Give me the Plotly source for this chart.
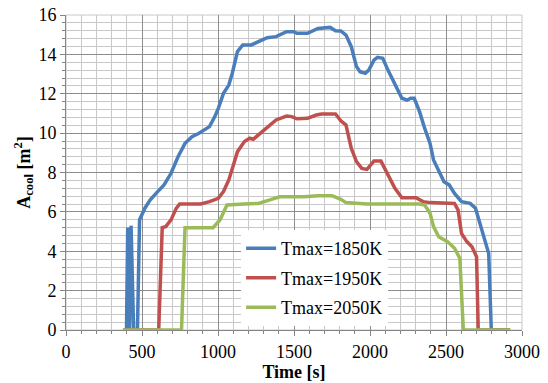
import plotly.graph_objects as go

# Time [s] and A_cool [m2] values
t_1850 = [380, 398, 406, 418, 428, 445, 470, 484, 520, 553, 600, 645, 691, 737, 783, 829, 875, 944,
          979, 1002, 1036, 1071, 1094, 1128, 1163, 1220, 1266, 1324, 1382, 1451, 1497, 1520, 1589,
          1658, 1738, 1773, 1808, 1842, 1877, 1911, 1934, 1969, 1992, 2026, 2049, 2084, 2118, 2164,
          2210, 2245, 2268, 2291, 2326, 2360, 2395, 2418, 2452, 2487, 2521, 2556, 2602, 2659, 2694,
          2729, 2752, 2781, 2798, 2920]
a_1850 = [0, 0, 5.2, 0, 5.3, 0, 0, 5.6, 6.2, 6.6, 7.0, 7.37, 7.96, 8.8, 9.48, 9.82, 9.99, 10.33,
          10.84, 11.26, 12.02, 12.44, 13.04, 14.14, 14.48, 14.48, 14.65, 14.85, 14.9, 15.15, 15.15,
          15.07, 15.07, 15.32, 15.37, 15.2, 15.19, 14.98, 14.39, 13.38, 13.12, 13.04, 13.2, 13.71,
          13.85, 13.8, 13.2, 12.44, 11.77, 11.68, 11.77, 11.77, 11.09, 10.24, 9.48, 8.64, 8.04,
          7.53, 7.37, 6.94, 6.52, 6.43, 6.18, 5.25, 4.74, 3.89, 0, 0]

t_1950 = [380, 610, 633, 656, 691, 725, 748, 806, 886, 944, 1002, 1036, 1071, 1105, 1128, 1174,
          1209, 1232, 1289, 1347, 1382, 1451, 1485, 1520, 1589, 1646, 1681, 1773, 1808, 1842, 1877,
          1911, 1946, 1980, 2026, 2072, 2118, 2164, 2210, 2303, 2349, 2395, 2556, 2579, 2602, 2637,
          2671, 2701, 2712, 2920]
a_1950 = [0, 0, 5.2, 5.25, 5.59, 6.18, 6.4, 6.4, 6.4, 6.52, 6.69, 7.03, 7.62, 8.47, 9.06, 9.57,
          9.74, 9.69, 10.07, 10.41, 10.67, 10.87, 10.84, 10.73, 10.75, 10.92, 10.97, 10.97, 10.63,
          10.41, 9.23, 8.55, 8.21, 8.16, 8.58, 8.58, 7.87, 7.2, 6.72, 6.72, 6.52, 6.47, 6.43, 6.1,
          4.91, 4.49, 4.23, 3.72, 0, 0]

t_2050 = [373, 760, 783, 852, 967, 1013, 1059, 1174, 1266, 1336, 1405, 1566, 1658, 1750, 1808,
          1842, 1980, 2326, 2360, 2395, 2418, 2452, 2510, 2556, 2591, 2614, 2924]
a_2050 = [0, 0, 5.2, 5.2, 5.2, 5.59, 6.35, 6.4, 6.43, 6.6, 6.77, 6.77, 6.82, 6.82, 6.64, 6.47,
          6.4, 6.4, 6.35, 5.93, 5.25, 4.74, 4.49, 4.15, 3.64, 0, 0]

series_names = ["Tmax=1850K", "Tmax=1950K", "Tmax=2050K"]
series_colors = ["#4A7EBB", "#C0504D", "#9BBB59"]

x_ticks = [0, 500, 1000, 1500, 2000, 2500, 3000]
y_ticks = [0, 2, 4, 6, 8, 10, 12, 14, 16]

FONT = "Liberation Serif"

fig = go.Figure()
for i, (tx, ay) in enumerate([(t_1850, a_1850), (t_1950, a_1950), (t_2050, a_2050)]):
    fig.add_trace(go.Scatter(
        x=tx, y=ay, mode="lines", name=series_names[i],
        legendgroup=f"g{i}",
        line=dict(color=series_colors[i], width=3.5),
    ))

axis_common = dict(
    showline=True, linecolor="#868686", linewidth=1,
    gridcolor="#8C8C8C", gridwidth=1,
    ticks="outside", ticklen=5, tickcolor="#868686",
    tickfont=dict(family=FONT, size=18, color="black"),
    zeroline=False, mirror=False, automargin=False,
    ticklabeloverflow="allow",
)

fig.update_xaxes(
    range=[0, 3000], tickvals=x_ticks, ticktext=[str(v) for v in x_ticks],
    minor=dict(dtick=100, showgrid=True, gridcolor="#C8C8C8", gridwidth=1,
               ticks="outside", ticklen=3, tickcolor="#868686"),
    title=dict(text="<b>Time [s]</b>", font=dict(family=FONT, size=18, color="black"), standoff=3),
    **axis_common,
)
fig.update_yaxes(
    range=[0, 16], tickvals=y_ticks, ticktext=[str(v) for v in y_ticks],
    minor=dict(dtick=0.4, showgrid=True, gridcolor="#C8C8C8", gridwidth=1,
               ticks="outside", ticklen=3, tickcolor="#868686"),
    title=dict(text="<b>A<sub>cool</sub> [m<sup>2</sup>]</b>",
               font=dict(family=FONT, size=18, color="black"), standoff=3),
    **axis_common,
)

# right / top border
fig.add_shape(type="rect", xref="paper", yref="paper", x0=0, y0=0, x1=1, y1=1,
              line=dict(color="#C8C8C8", width=1), layer="below")

fig.update_layout(
    width=548, height=383,
    margin=dict(l=66, r=26, t=15, b=53),
    paper_bgcolor="white", plot_bgcolor="white",
    font=dict(family=FONT, size=18, color="black"),
    legend=dict(
        x=0.384, y=0.317, xanchor="left", yanchor="top",
        bgcolor="white", borderwidth=0,
        font=dict(family=FONT, size=18, color="black"),
        tracegroupgap=3, itemwidth=30,
    ),
    showlegend=True,
)

fig.write_html("out.html", config={"displayModeBar": False},
               post_script="document.body.style.margin='0';document.body.style.overflow='hidden';")
